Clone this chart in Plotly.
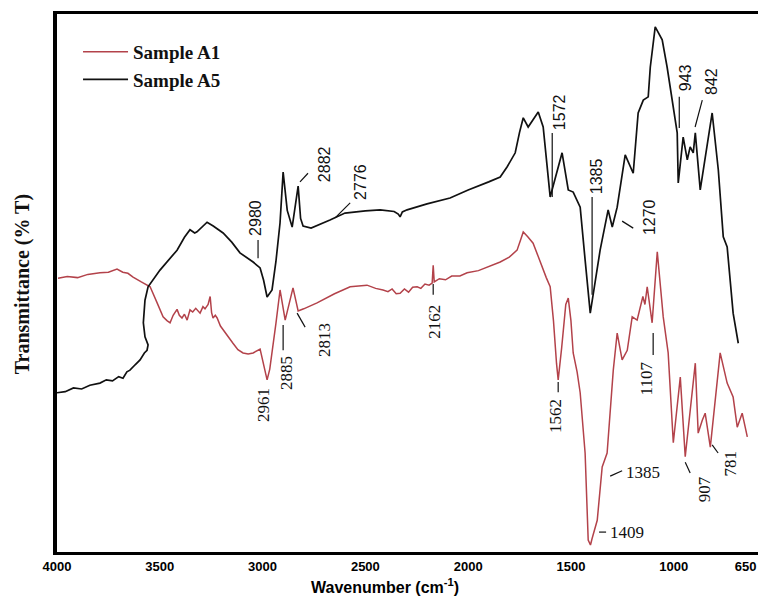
import plotly.graph_objects as go

# ---------------- data (wavenumber cm-1, relative transmittance) ----------------
a1_wn = [3995, 3950, 3900, 3850, 3791, 3750, 3708, 3680, 3655, 3630, 3590, 3547, 3515, 3484,
         3465, 3450, 3435, 3416, 3405, 3392, 3380, 3367, 3353, 3340, 3325, 3304, 3290, 3280,
         3265, 3255, 3248, 3241, 3230, 3221, 3205, 3192, 3170, 3144, 3120, 3095, 3070, 3046,
         3012, 2995, 2978, 2965, 2954, 2935, 2915, 2890, 2852, 2827, 2800, 2735, 2650, 2574,
         2492, 2450, 2414, 2390, 2370, 2350, 2331, 2310, 2290, 2270, 2248, 2230, 2210, 2190,
         2175, 2170, 2165, 2140, 2110, 2080, 2040, 2005, 1950, 1900, 1844, 1800, 1762, 1745,
         1732, 1710, 1684, 1660, 1640, 1620, 1601, 1585, 1570, 1562, 1545, 1525, 1513, 1500,
         1489, 1470, 1455, 1431, 1416, 1405, 1397, 1385, 1372, 1348, 1324, 1294, 1275, 1251,
         1226, 1202, 1178, 1150, 1140, 1129, 1105, 1080, 1051, 1027, 1002, 968, 944, 895,
         881, 861, 847, 822, 774, 740, 711, 691, 667, 642]
a1_t = [50.9, 51.2, 51.0, 51.6, 51.9, 52.0, 52.6, 52.0, 51.8, 51.1, 50.2, 49.3, 46.5, 43.7,
        43.0, 42.6, 44.0, 45.1, 44.0, 43.5, 44.2, 43.1, 45.0, 44.6, 45.3, 44.4, 45.6, 45.2,
        46.0, 47.5, 44.5, 43.5, 44.0, 43.5, 42.0, 41.3, 40.0, 38.8, 37.6, 37.0, 36.8, 37.0,
        37.7, 35.0, 32.0, 34.0, 37.0, 42.5, 48.7, 43.1, 49.1, 44.8, 45.2, 46.3, 48.0, 49.3,
        49.6, 49.0, 48.7, 48.4, 48.9, 48.0, 48.1, 48.9, 48.3, 49.2, 49.3, 49.0, 49.8, 49.6,
        50.0, 53.3, 50.2, 50.8, 50.6, 51.3, 51.3, 51.9, 52.3, 53.0, 53.9, 54.8, 56.1, 58.0,
        59.5, 58.6, 57.4, 55.0, 52.8, 51.0, 49.3, 43.0, 35.0, 32.0, 38.0, 46.0, 47.2, 43.0,
        37.0, 33.5, 29.6, 18.4, 2.2, 1.3, 2.5, 4.0, 5.9, 15.8, 18.4, 33.8, 40.7, 35.7,
        37.5, 43.7, 43.1, 47.5, 46.0, 49.3, 42.6, 55.8, 43.7, 37.0, 20.3, 32.5, 17.7, 35.1,
        22.1, 24.5, 25.8, 19.5, 37.0, 31.4, 28.8, 23.2, 25.8, 21.4]

a5_wn = [4000, 3960, 3920, 3880, 3840, 3791, 3760, 3730, 3700, 3679, 3660, 3645, 3620, 3596,
         3575, 3562, 3557, 3572, 3580, 3572, 3557, 3499, 3416, 3380, 3353, 3330, 3319, 3270,
         3240, 3192, 3150, 3110, 3046, 3012, 2995, 2978, 2954, 2935, 2915, 2900, 2880, 2856,
         2827, 2815, 2803, 2764, 2672, 2599, 2500, 2428, 2360, 2340, 2331, 2320, 2297, 2200,
         2088, 2000, 1900, 1844, 1810, 1771, 1750, 1732, 1708, 1659, 1635, 1601, 1543, 1513,
         1489, 1455, 1431, 1406, 1358, 1319, 1299, 1275, 1236, 1197, 1173, 1148, 1124, 1114,
         1090, 1076, 1056, 1032, 983, 978, 954, 934, 920, 905, 895, 871, 813, 783, 759, 740,
         711, 686]
a5_t = [29.6, 29.8, 30.5, 30.3, 31.0, 31.4, 32.0, 31.8, 32.6, 32.3, 33.5, 33.8, 34.8, 35.7,
        37.0, 37.5, 38.5, 40.0, 42.6, 46.8, 49.3, 52.4, 56.1, 58.5, 59.9, 59.3, 59.5, 61.3,
        60.6, 59.3, 57.6, 55.6, 53.9, 52.8, 50.5, 47.4, 48.7, 54.0, 61.2, 70.6, 63.5, 60.4,
        68.0, 62.0, 60.6, 60.2, 61.7, 63.0, 63.4, 63.6, 63.3, 62.8, 62.3, 63.2, 63.6, 64.7,
        65.8, 67.3, 68.8, 69.7, 71.6, 74.2, 78.0, 80.7, 79.0, 81.8, 79.0, 66.0, 74.2, 67.3,
        66.9, 64.1, 54.3, 44.4, 56.1, 63.6, 60.4, 64.1, 73.8, 70.4, 81.6, 84.0, 84.6, 90.1,
        97.6, 96.5, 95.2, 90.1, 77.9, 68.6, 77.1, 72.9, 75.3, 74.2, 77.9, 67.3, 81.6, 71.0,
        58.6, 56.7, 44.4, 38.8]

x_tickvals = [4000, 3500, 3000, 2500, 2000, 1500, 1000, 650]
x_ticktext = ["4000", "3500", "3000", "2500", "2000", "1500", "1000", "650"]

# peak labels
a5_labels = ["2980", "2882", "2776", "1572", "1385", "1270", "943", "842"]
a5_label_wn = [3032, 2701, 2521, 1552, 1372, 1114, 944, 813]
a5_label_t = [62.1, 72.1, 68.8, 81.8, 69.9, 62.3, 88.1, 87.4]

a1_labels = ["2961", "2885", "2813", "2162", "1562", "1107", "907", "781"]
a1_label_wn = [2998, 2881, 2701, 2161, 1572, 1134, 852, 725]
a1_label_t = [27.3, 33.3, 39.4, 42.8, 25.3, 32.3, 11.7, 16.5]

a1_hlabels = ["1385", "1409"]
a1_hlabel_wn = [1149, 1226]
a1_hlabel_t = [14.7, 3.7]

# leader lines (wn0, t0, wn1, t1)
leaders = [
    (3022, 58.0, 3022, 54.6), (2818, 68.8, 2779, 70.4), (2647, 62.1, 2574, 64.9),
    (1591, 77.9, 1591, 66.0), (1397, 66.0, 1397, 47.8), (1251, 61.5, 1197, 60.2),
    (973, 84.6, 973, 78.8), (896, 79.0, 861, 84.0),
    (2900, 42.2, 2900, 37.5), (2832, 44.4, 2793, 41.8), (2170, 49.8, 2170, 47.8),
    (1562, 31.6, 1562, 29.7), (1100, 40.7, 1100, 36.6), (1309, 14.1, 1251, 15.1),
    (1363, 3.7, 1329, 3.7), (944, 16.7, 920, 14.7), (813, 19.9, 784, 18.4),
]

RED = "#b3424a"

fig = go.Figure()
fig.add_trace(go.Scatter(x=a1_wn, y=a1_t, mode="lines", name="Sample A1",
                         line=dict(color=RED, width=1.5)))
fig.add_trace(go.Scatter(x=a5_wn, y=a5_t, mode="lines", name="Sample A5",
                         line=dict(color="#111111", width=1.7)))

annotations = []
for txt, xv, yv in zip(a5_labels, a5_label_wn, a5_label_t):
    annotations.append(dict(x=xv, y=yv, xref="x", yref="y", text=txt, showarrow=False,
                            textangle=-90, xanchor="center", yanchor="middle",
                            font=dict(family="Liberation Sans", size=16, color="#111")))
for txt, xv, yv in zip(a1_labels, a1_label_wn, a1_label_t):
    annotations.append(dict(x=xv, y=yv, xref="x", yref="y", text=txt, showarrow=False,
                            textangle=-90, xanchor="center", yanchor="middle",
                            font=dict(family="Liberation Serif", size=17, color="#111")))
for txt, xv, yv in zip(a1_hlabels, a1_hlabel_wn, a1_hlabel_t):
    annotations.append(dict(x=xv, y=yv, xref="x", yref="y", text=txt, showarrow=False,
                            xanchor="center", yanchor="middle",
                            font=dict(family="Liberation Serif", size=17, color="#111")))

annotations.append(dict(x=(385 - 57) / 701, y=-0.063, xref="paper", yref="paper",
                        text="<b>Wavenumber (cm<sup>-1</sup>)</b>", showarrow=False,
                        xanchor="center", yanchor="middle",
                        font=dict(family="Liberation Sans", size=16, color="black")))
annotations.append(dict(x=-0.049, y=0.497, xref="paper", yref="paper",
                        text="<b>Transmittance (% T)</b>", showarrow=False, textangle=-90,
                        xanchor="center", yanchor="middle",
                        font=dict(family="Liberation Serif", size=20, color="#111")))

shapes = [dict(type="line", xref="x", yref="y", x0=a, y0=b, x1=c, y1=d,
               line=dict(color="#111", width=1.2)) for a, b, c, d in leaders]

fig.update_layout(
    width=758, height=598,
    margin=dict(l=57, r=0, t=14, b=46),
    paper_bgcolor="white", plot_bgcolor="white",
    showlegend=True,
    legend=dict(x=0.03, y=0.965, xanchor="left", yanchor="top",
                bgcolor="rgba(0,0,0,0)", borderwidth=0,
                font=dict(family="Liberation Serif", size=19, color="#111", weight="bold"),
                tracegroupgap=0, itemwidth=45),
    annotations=annotations,
    shapes=shapes,
)
fig.update_xaxes(range=[4000, 590], tickvals=x_tickvals, ticktext=x_ticktext,
                 showgrid=False, zeroline=False, showline=True, linecolor="black",
                 linewidth=3, mirror=True, ticks="", ticklabelstandoff=0,
                 tickfont=dict(family="Liberation Sans", size=13, color="black", weight="bold"))
fig.update_yaxes(range=[0, 100], showgrid=False, zeroline=False, showline=True,
                 linecolor="black", linewidth=4, showticklabels=False, ticks="")

fig.write_html("out.html")
